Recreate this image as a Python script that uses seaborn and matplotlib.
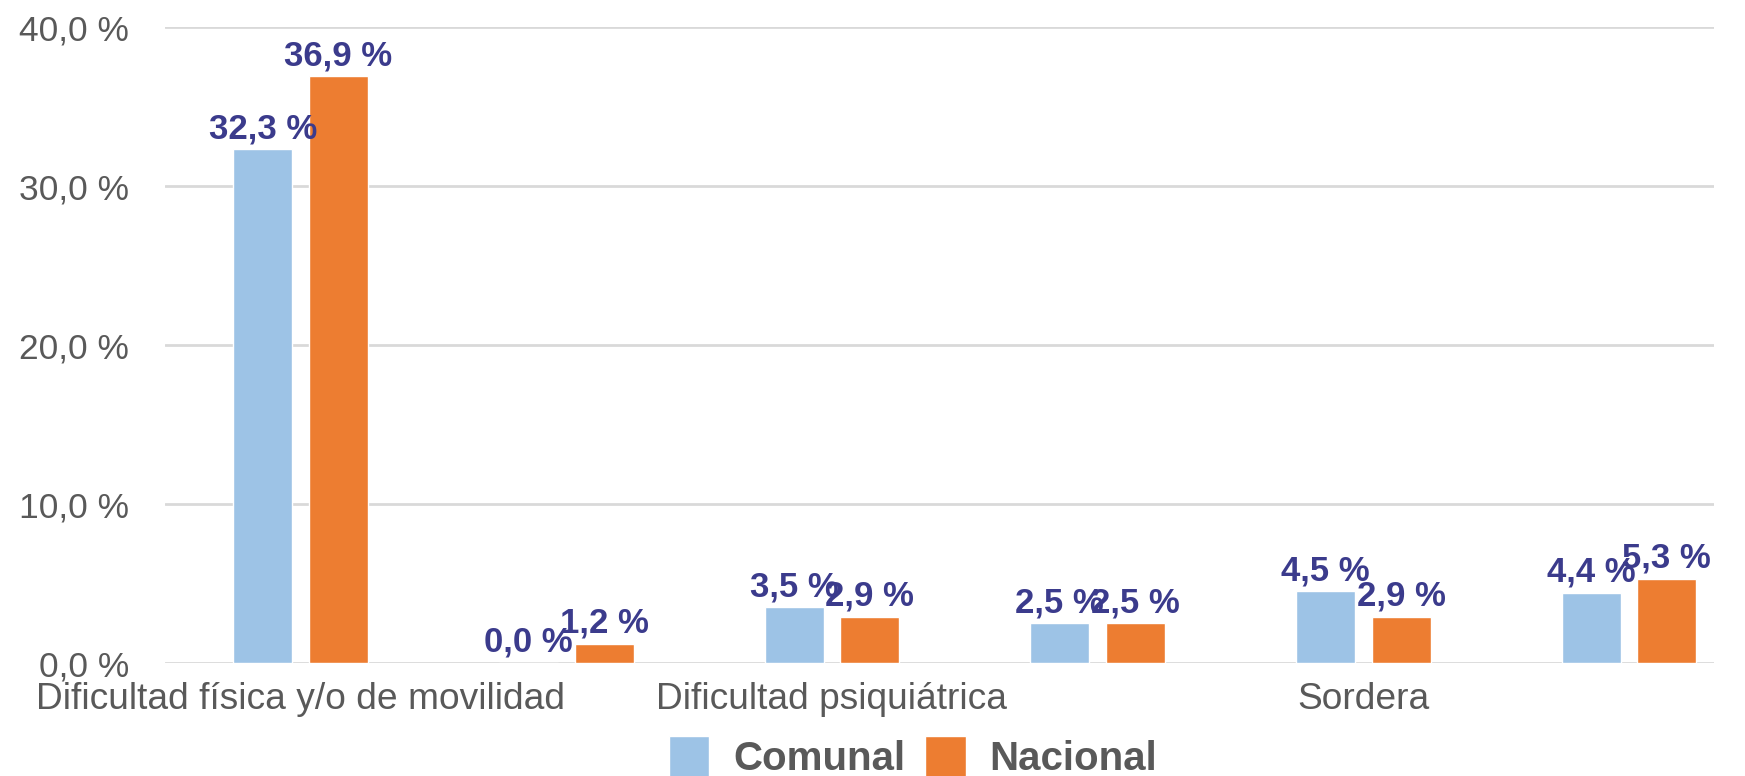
import matplotlib
matplotlib.use("Agg")

import pandas as pd
import matplotlib.pyplot as plt
import seaborn as sns

# Data (only every other category label is shown)
categories = [
    "Dificultad física y/o de movilidad",
    "Mudez o dificultad en el habla",
    "Dificultad psiquiátrica",
    "Dificultad mental o intelectual",
    "Sordera",
    "Ceguera o dificultad para ver",
]
shown_labels = [
    "Dificultad física y/o de movilidad",
    "",
    "Dificultad psiquiátrica",
    "",
    "Sordera",
    "",
]
comunal = [32.3, 0.0, 3.5, 2.5, 4.5, 4.4]
nacional = [36.9, 1.2, 2.9, 2.5, 2.9, 5.3]
series_names = ["Comunal", "Nacional"]
colors = ["#9DC3E6", "#ED7D31"]

df = pd.DataFrame({
    "Categoria": categories * 2,
    "Serie": [series_names[0]] * len(categories) + [series_names[1]] * len(categories),
    "Valor": comunal + nacional,
})

sns.set_style("white")
plt.rcParams["font.family"] = ["Liberation Sans", "DejaVu Sans"]

fig = plt.figure(figsize=(17.45, 7.76), dpi=100)
ax = fig.add_axes([165 / 1745, 0.1456, (1714 - 165) / 1745, 0.8196])

sns.barplot(data=df, x="Categoria", y="Valor", hue="Serie", order=categories,
            hue_order=series_names, palette=colors, width=0.57, gap=0.22,
            saturation=1, ax=ax, legend=True)

# Value labels on top of the bars
for container in ax.containers:
    labels = [f"{v:.1f} %".replace(".", ",") for v in container.datavalues]
    ax.bar_label(container, labels=labels, padding=3, color="#3B3B8C",
                 fontsize=25, fontweight="bold")

ax.set_ylim(0, 40)
ax.set_xlim(-0.51, 5.32)
ax.set_yticks([0, 10, 20, 30, 40])
ax.set_yticklabels([f"{v:.1f} %".replace(".", ",") for v in [0, 10, 20, 30, 40]])
ax.set_xticks(range(len(categories)))
ax.set_xticklabels(shown_labels)
ax.tick_params(axis="y", labelsize=25.5, labelcolor="#595959", length=0, pad=26)
ax.tick_params(axis="x", labelsize=26.7, labelcolor="#595959", length=0, pad=14)
ax.set_xlabel("")
ax.set_ylabel("")

ax.yaxis.grid(True, color="#D9D9D9", linewidth=2)
ax.set_axisbelow(True)
sns.despine(ax=ax, left=True, bottom=True)

ax.legend(loc="center", bbox_to_anchor=(913 / 1745, 19 / 776),
          bbox_transform=fig.transFigure, ncol=2, frameon=False,
          prop={"size": 29, "weight": "bold"}, labelcolor="#595959",
          handlelength=1.0, handleheight=1.2, handletextpad=0.6,
          columnspacing=0.5)

fig.savefig("out.png", dpi=100)
